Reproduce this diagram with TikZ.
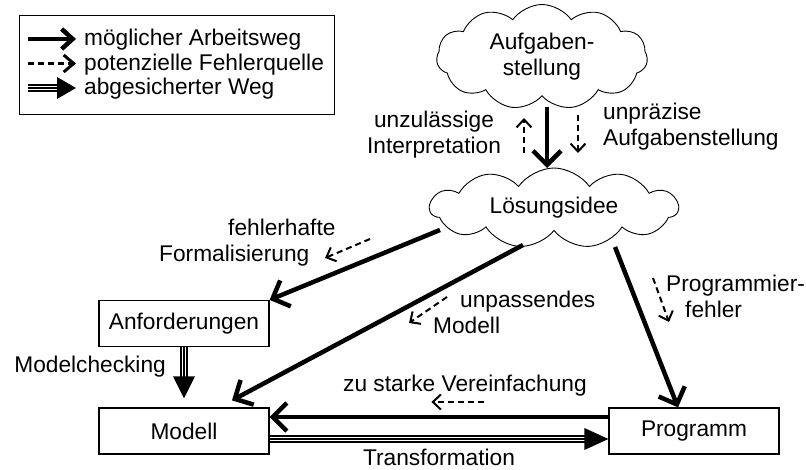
\documentclass[tikz,border=0pt]{standalone}
\usepackage{fontspec}
\setmainfont{Liberation Sans}
\usetikzlibrary{shapes.symbols,arrows.meta,calc}
\begin{document}
\begin{tikzpicture}[x=1pt,y=-1pt,
  every node/.style={font=\fontsize{22.7}{26}\selectfont},
  box/.style={draw, line width=1.2pt, minimum width=170pt, minimum height=46pt, inner sep=0pt},
  wolke/.style={draw, cloud, cloud puffs=11, cloud puff arc=110, cloud ignores aspect, line width=0.9pt, inner sep=0pt, align=center},
  lbl/.style={inner sep=0pt, align=left},
  weg/.style={line width=4.5pt, -{Straight Barb[length=14pt,width=28pt]}},
  legweg/.style={line width=4.5pt, -{Straight Barb[length=11pt,width=20pt]}},
  fehler/.style={line width=2pt, dash pattern=on 6pt off 4pt, -{Straight Barb[length=8pt,width=15pt]}},
  legfehler/.style={line width=3pt, dash pattern=on 6pt off 4pt, -{Straight Barb[length=10pt,width=17pt]}},
  sicher/.style={line width=8pt, postaction={draw=white,line width=4.4pt}, postaction={draw=black,line width=1.6pt}},
]
\useasboundingbox (0,0) rectangle (806,470);

% legend
\node[draw, line width=1.2pt, minimum width=315pt, minimum height=99pt, anchor=north west, inner sep=0pt] (leg) at (19,15) {};
\node[lbl, anchor=base west] (l1) at (84,46) {möglicher Arbeitsweg};
\node[lbl, anchor=base west] (l2) at (84,70.5) {potenzielle Fehlerquelle};
\node[lbl, anchor=base west] (l3) at (84,95) {abgesicherter Weg};
\draw[legweg] ($(l1.base west)+(-56,-7)$) -- ($(l1.base west)+(-8,-7)$);
\draw[legfehler] ($(l2.base west)+(-56,-7)$) -- ($(l2.base west)+(-8,-7)$);
\draw[sicher] ($(l3.base west)+(-56,-7)$) -- ($(l3.base west)+(-26,-7)$);
\fill ($(l3.base west)+(-8,-7)$) -- ($(l3.base west)+(-27,-18)$) -- ($(l3.base west)+(-27,4)$) -- cycle;

% clouds
\node[wolke, minimum width=211pt, minimum height=105pt] (auf) at (542,57) {Aufgaben-\\stellung};
\node[wolke, minimum width=248pt, minimum height=80pt] (loes) at (554,208) {Lösungsidee};

% boxes
\node[box] (anf) at (184,323.5) {Anforderungen};
\node[box] (mod) at (184,431) {Modell};
\node[box] (prog) at (694,431) {Programm};

% labels
\node[lbl, align=center] (unz) at (434,134.5) {unzulässige\\Interpretation};
\node[lbl, anchor=west] (unp) at (603,127) {unpräzise\\Aufgabenstellung};
\node[lbl, anchor=west] (fehl) at (159,242.5) {\hspace*{69pt}fehlerhafte\\Formalisierung};
\node[lbl, anchor=west] (unpa) at (433,312.5) {\hspace*{27pt}unpassendes\\Modell};
\node[lbl, anchor=west] (progf) at (666,296.5) {Programmier-\\\hspace*{19pt}fehler};
\node[lbl, anchor=base east] (mc) at (166,373) {Modelchecking};
\node[lbl, anchor=base west] (vere) at (343,391) {zu starke Vereinfachung};
\node[lbl, anchor=base] (trans) at (439,465.5) {Transformation};

% main arrows
\draw[weg] ($(auf.center)+(5,50)$) -- ($(loes.center)+(-7,-40)$);
\draw[weg] ($(loes.center)+(-114,22)$) -- (anf.north east);
\draw[weg] ($(loes.center)+(-31,37)$) -- ($(mod.north)+(48,-7)$);
\draw[weg] ($(loes.center)+(61,39)$) -- ($(prog.north)+(-16,0)$);
\draw[weg] ($(prog.west)+(0,-14)$) -- ($(mod.east)+(0,-14)$);

% secured paths
\draw[sicher] ($(mod.east)+(0,8)$) -- ($(prog.west)+(-23,8)$);
\fill ($(prog.west)+(0,8)$) -- ($(prog.west)+(-24,-3)$) -- ($(prog.west)+(-24,19)$) -- cycle;
\draw[sicher] (anf.south) -- ($(mod.north)+(0,-30)$);
\fill ($(mod.north)+(0,-9)$) -- ($(mod.north)+(-11,-31)$) -- ($(mod.north)+(11,-31)$) -- cycle;

% error sources
\draw[fehler] ($(auf.center)+(-18,96)$) -- ($(auf.center)+(-18,61)$);
\draw[fehler] ($(auf.center)+(36,58)$) -- ($(auf.center)+(36,96)$);
\draw[fehler] ($(loes.center)+(-184,31)$) -- ($(loes.center)+(-229,50)$);
\draw[fehler] ($(loes.center)+(-107,89)$) -- ($(loes.center)+(-145,115)$);
\draw[fehler] ($(loes.center)+(99,70)$) -- ($(loes.center)+(115,114)$);
\draw[fehler] ($(prog.west)+(-124,-29)$) -- ($(prog.west)+(-177,-29)$);
\end{tikzpicture}
\end{document}
